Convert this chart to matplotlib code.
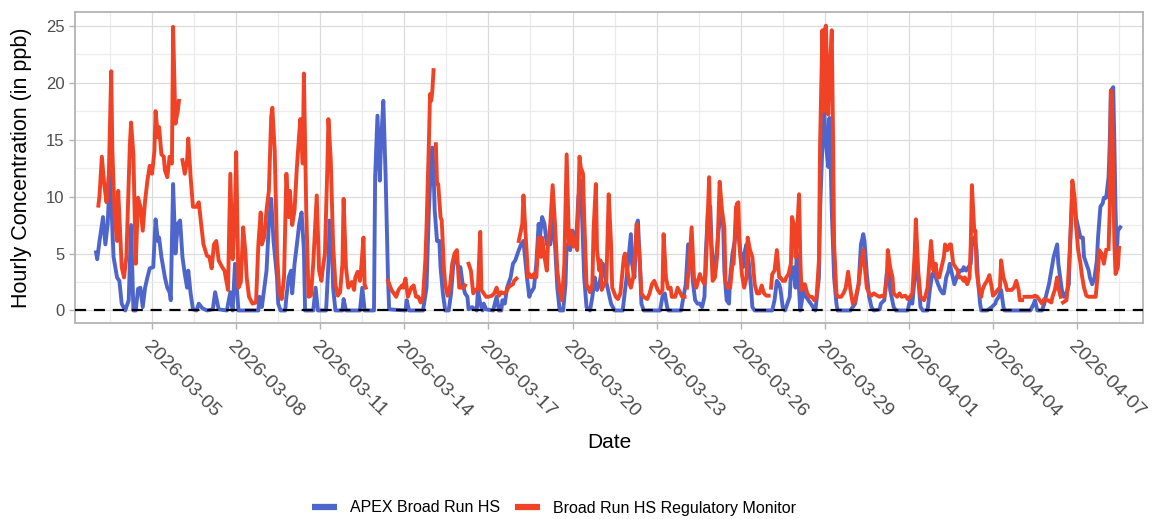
import numpy as np
import pandas as pd
import matplotlib
matplotlib.use('Agg')
import matplotlib.pyplot as plt
from matplotlib.lines import Line2D

# hourly readings, hours counted from 2026-03-03 00:00 (nan = missing hours)
apex_hours = [0, 1, 3, 6, 8, 10, 12, 15, 18, 20, 22, 25, 28, 30, 32, 34, 36, 38, 40, 42,
              44, 46, 49, 51, 53, 54, 56, 59, 61, 63, 64, 66, 68, 70, 72, 74, 76, 78, 79, 81,
              83, 86, 88, 91, 95, 100, 102, 105, 112, 115, 117, 119, 122, 139, 140, 142, 144, 146, 148, 150,
              152, 155, 156, 158, 162, 163, 165, 167, 168, 170, 172, 174, 176, 178, 179, 186, 188, 190, 197, 199,
              200, 202, 203, 205, 211, 212, 214, 226, 228, 230, 238, 239, 241, 243, 244, 246, 248, 250, 251, 265,
              266, 268, 280, 283, 285, 287, 288, 289, 290, 292, 294, 295, 297, 299, 302, 304, 306, 308, 310, 312,
              314, 316, 318, 319, 322, 326, 327, 329, 331, 332, 334, 340, 343, 345, 347, 348, 350, 352, 355, 357,
              359, 362, 364, 366, 367, 369, 371, 372, 375, 377, 379, 380, 382, 384, 386, 387, 389, 391, 393, 395,
              397, 400, 402, 403, 406, 408, 410, 411, 413, 415, 416, 418, 420, 423, 425, 427, 429, 431, 433, 434,
              436, 438, 441, 444, 451, 453, 454, 456, 458, 459, 461, 463, 464, 466, 467, 469, 483, 485, 487, 489,
              490, 501, 503, 505, 507, 509, 511, 513, 515, 517, 519, 521, 522, 524, 526, 527, 529, 531, 533, 535,
              537, 538, 540, 542, 543, 545, 547, 549, 550, 552, 554, 555, 557, 559, 561, 562, 564, 579, 581, 583,
              585, 586, 588, 590, 592, 594, 595, 597, 599, 600, 602, 603, 605, 606, 608, 610, 612, 614, 616, 619,
              620, 622, 623, 625, 627, 628, 629, 630, 632, 634, 635, 646, 648, 650, 651, 653, 655, 657, 658, 660,
              662, 664, 666, 671, 672, 675, 677, 679, 680, 683, 685, 695, 697, 699, 701, 702, 704, 706, 708, 712,
              714, 716, 718, 719, 721, 723, 725, 726, 728, 730, 731, 733, 735, 737, 738, 740, 742, 743, 745, 747,
              749, 750, 752, 754, 755, 757, 758, 763, 767, 770, 771, 773, 775, 777, 778, 800, 803, 804, 806, 810,
              812, 814, 816, 818, 820, 823, 824, 826, 827, 829, 831, 833, 834, 836, 838, 839, 841, 843, 845, 846,
              848, 850, 851, 853, 855, 857, 858, 860, 862, 863, 865, 867, 868, 869, 871, 872, 873, 874, 875, 877]
apex_ppb = [5.1, 4.5, 6.1, 8.2, 5.8, 7.6, 12.3, 4.7, 2.9, 2.6, 0.6, 0, 0.9, 7.5, 0, 0, 1.9, 2.0, 0.3, 2.0,
            2.9, 3.7, 3.8, 8.0, 6.1, 6.4, 4.7, 2.9, 2.0, 1.6, 0.9, 11.1, 5.0, 7.6, 7.9, 4.7, 3.2, 2.0, 3.5, 1.5,
            0.1, 0, 0.6, 0.2, 0, 0.1, 1.6, 0.1, 0, 1.6, 0, 4.1, 0, 0, 1.2, 0.3, 1.9, 3.5, 7.6, 9.8,
            6.1, 2.9, 0.6, 0, 0, 1.2, 2.9, 3.5, 1.5, 4.1, 5.8, 7.6, 8.6, 5.3, 0, 0, 2.0, 0, 0, 4.1,
            7.9, 6.4, 2.0, 0, 0, 1.0, 0, 0, 2.0, 0, 0, 11.7, 17.1, 11.4, 14.6, 18.4, 11.7, 2.9, 0.1, 0,
            0.9, 0, 0, 2.0, 8.8, 13.2, 14.3, 12.3, 8.8, 6.1, 6.1, 3.8, 1.5, 0, 0, 1.5, 4.1, 5.0, 3.8, 3.8,
            2.3, 1.5, 1.2, 0.1, 0.3, 0, 1.8, 0.6, 0, 0.6, 0.1, 0, 1.2, 0, 0, 0.9, 0.6, 2.0, 2.9, 4.1,
            4.4, 5.3, 5.8, 6.1, 5.0, 2.9, 1.2, 1.5, 2.0, 4.1, 7.6, 6.4, 8.2, 7.6, 5.8, 6.4, 5.8, 8.2, 5.8, 2.0,
            0, 0, 2.3, 5.8, 5.3, 7.0, 5.8, 5.8, 9.9, 11.4, 8.8, 2.9, 0.3, 0, 1.2, 2.9, 1.8, 2.3, 3.5, 4.1,
            2.9, 2.0, 0.6, 0, 0, 1.8, 2.6, 4.7, 6.7, 4.1, 2.9, 7.6, 7.9, 3.5, 0.6, 0, 0, 1.2, 1.5, 0.3,
            0, 0, 1.2, 2.3, 5.8, 5.8, 2.6, 0.9, 0.6, 0.6, 0.3, 1.2, 4.7, 8.8, 9.1, 5.8, 3.5, 4.4, 7.0, 8.5,
            7.6, 3.5, 0.9, 0.6, 2.9, 5.0, 6.1, 9.4, 7.0, 4.7, 3.8, 5.0, 5.8, 4.1, 1.8, 0.3, 0, 0, 0.9, 2.6,
            2.3, 1.9, 0.3, 0, 0.6, 1.2, 3.2, 3.8, 2.0, 5.0, 1.8, 0, 1.2, 2.0, 1.2, 0.9, 0.6, 0.3, 0, 2.9,
            8.8, 14.6, 18.6, 14.6, 12.6, 16.9, 13.2, 8.8, 2.9, 0.6, 0, 0, 0.3, 0.6, 1.2, 2.3, 5.8, 6.7, 6.1, 3.2,
            1.2, 0.3, 0, 0.1, 0.6, 0.9, 3.2, 4.1, 1.8, 0.3, 0, 0, 0.9, 0.6, 2.9, 5.8, 2.9, 0.3, 0, 0,
            1.8, 3.2, 3.2, 2.9, 2.3, 1.8, 1.5, 1.5, 2.9, 3.5, 4.1, 3.2, 2.3, 2.9, 3.2, 3.5, 3.5, 3.8, 3.5, 3.8,
            4.1, 5.8, 6.4, 5.3, 2.9, 0.6, 0, 0, 0.3, 0.6, 0.9, 1.2, 1.8, 0.3, 0, 0, 0.6, 0.9, 0, 0,
            0.6, 1.5, 2.3, 3.5, 4.7, 5.8, 4.1, 2.6, 1.8, 1.2, 1.5, 2.3, 5.8, 9.9, 9.4, 8.2, 7.3, 6.4, 6.4, 4.7,
            4.1, 3.5, 2.9, 2.3, 2.9, 4.4, 6.4, 9.1, 9.4, 9.9, 9.9, 11.7, 14.6, 19.3, 19.6, 14.6, 8.8, 5.0, 7.0, 7.3]

nan = np.nan
monitor_hours = [2, 3, 5, 7, 9, 11, 13, 14, 16, 18, 19, 21, 22, 24, 26, 29, 30, 32, 34, 36,
                 38, 40, 42, 44, 46, 48, 50, 51, 53, 54, 56, 58, 59, 61, 63, 65, 66, 68, 70, 71,
                 72, 74, 76, 78, 79, 81, 83, 86, 88, 90, 92, 95, 97, 99, 101, 103, 105, 108, 110, 113,
                 115, 117, 119, 120, 122, 124, 126, 128, 129, 131, 134, 137, 139, 141, 142, 144, 146, 148, 150, 151,
                 153, 155, 157, 159, 161, 163, 165, 166, 168, 170, 172, 174, 175, 177, 178, 180, 182, 184, 186, 189,
                 191, 193, 194, 196, 198, 199, 201, 203, 205, 207, 209, 211, 212, 214, 216, 219, 221, 222, 224, 226,
                 227, 229, 230, 231, 232, 250, 253, 255, 257, 259, 262, 263, 265, 267, 270, 272, 274, 276, 278, 280,
                 282, 283, 285, 286, 287, 288, 289, 290, 291, 292, 293, 295, 296, 298, 299, 301, 303, 305, 307, 309,
                 311, 313, 315, 316, 317, 319, 321, 323, 325, 327, 329, 330, 332, 334, 336, 339, 341, 343, 345, 347,
                 349, 351, 353, 355, 357, 358, 360, 361, 362, 365, 366, 368, 370, 371, 373, 375, 377, 379, 381, 382,
                 384, 386, 387, 389, 391, 393, 395, 397, 399, 401, 403, 405, 407, 409, 410, 412, 414, 415, 417, 418,
                 419, 420, 423, 425, 426, 428, 429, 431, 432, 433, 435, 437, 439, 441, 442, 445, 447, 449, 452, 453,
                 455, 457, 458, 460, 462, 463, 465, 467, 469, 472, 474, 476, 478, 481, 483, 485, 486, 488, 490, 492,
                 493, 496, 498, 499, 502, 504, 505, 506, 508, 510, 512, 514, 517, 518, 521, 522, 525, 526, 528, 530,
                 532, 534, 536, 538, 539, 541, 543, 545, 546, 548, 550, 551, 553, 555, 557, 558, 560, 562, 564, 566,
                 568, 570, 572, 574, 576, 577, 578, 579, 581, 583, 585, 586, 588, 590, 591, 593, 595, 596, 598, 599,
                 601, 602, 603, 604, 606, 607, 609, 611, 613, 615, 617, 619, 620, 622, 623, 624, 625, 626, 627, 628,
                 630, 631, 632, 634, 635, 638, 640, 642, 644, 646, 648, 650, 653, 655, 657, 658, 660, 662, 664, 666,
                 669, 671, 673, 675, 677, 678, 680, 682, 683, 686, 688, 690, 693, 695, 697, 699, 701, 702, 704, 706,
                 709, 710, 712, 714, 715, 717, 719, 720, 722, 724, 726, 727, 729, 731, 732, 734, 736, 738, 739, 741,
                 743, 744, 746, 748, 749, 750, 752, 753, 754, 756, 758, 759, 761, 763, 765, 767, 768, 770, 772, 774,
                 775, 777, 779, 780, 782, 784, 786, 788, 790, 791, 793, 794, 795, 798, 800, 802, 804, 806, 808, 810,
                 812, 814, 815, 818, 819, 821, 823, 824, 826, 827, 828, 831, 832, 834, 836, 838, 839, 841, 843, 844,
                 846, 848, 850, 852, 854, 856, 858, 859, 861, 863, 864, 865, 866, 867, 868, 869, 870, 871, 872, 873,
                 875, 876]
monitor_ppb = [9.2, 10.1, 13.5, 11.1, 9.5, 12.0, 21.0, 14.0, 8.2, 6.1, 10.5, 6.1, 3.8, 2.9, 4.7, 14.6, 16.5, 13.7, 4.1, 9.9,
               9.1, 7.0, 9.6, 11.4, 12.7, 12.0, 14.0, 17.5, 15.2, 16.1, 13.7, 13.5, 12.3, 11.7, 13.5, 12.9, 24.9, 16.4, 17.5, 18.4,
               nan, 13.2, 12.0, 13.2, 15.1, 11.7, 9.1, 9.1, 9.5, 7.6, 5.8, 4.8, 4.7, 3.7, 5.8, 6.1, 4.4, 3.8, 3.5, 1.8,
               12.0, 4.5, 8.8, 13.9, 2.0, 2.5, 7.3, 5.0, 2.9, 1.2, 0.6, 0.7, 5.8, 8.6, 5.8, 6.4, 8.8, 10.5, 17.0, 17.8,
               14.0, 5.0, 1.5, 1.0, 2.9, 12.0, 8.2, 10.5, 7.5, 8.8, 12.6, 15.5, 16.8, 12.9, 20.8, 8.8, 1.2, 1.3, 4.1, 10.1,
               3.5, 2.6, 3.5, 5.0, 12.3, 16.8, 13.2, 5.8, 2.3, 1.3, 1.6, 4.1, 9.8, 3.8, 2.0, 2.5, 1.8, 2.9, 3.4, 2.6,
               3.6, 6.4, 2.3, 2.0, nan, 2.6, 1.8, 1.5, 1.2, 1.8, 2.2, 2.0, 2.8, 1.2, 2.0, 2.2, 1.2, 1.2, 0.7, 1.2,
               4.4, 7.3, 14.6, 19.0, 18.4, 19.3, 21.1, nan, 14.6, 11.1, 11.1, 8.2, 7.9, 3.5, 2.3, 1.3, 2.0, 4.1, 5.0, 5.3,
               2.0, 2.0, 2.0, 2.2, nan, 4.1, 3.5, 1.5, 1.8, 1.9, 6.9, 1.8, 1.5, 1.2, 1.2, 1.3, 1.5, 2.0, 1.3, 1.6,
               1.5, 1.6, 2.0, 2.2, 2.3, 2.6, 2.8, nan, 6.1, 7.6, 10.1, 6.4, 2.9, 3.2, 2.9, 3.2, 2.9, 6.4, 4.7, 6.4,
               4.7, 3.5, 5.8, 7.6, 11.0, 7.6, 3.5, 1.8, 0.9, 4.1, 13.7, 5.8, 7.0, 5.6, 6.4, 5.3, 13.5, 12.6, 12.0, 8.2,
               5.3, 2.3, 1.6, 2.3, 7.0, 11.1, 5.3, 3.5, 4.4, 1.8, 2.3, 2.6, 10.2, 5.8, 2.0, 1.2, 1.0, 1.5, 4.7, 5.0,
               3.5, 2.3, 2.0, 2.9, 5.8, 7.6, 5.3, 1.5, 1.2, 1.0, 1.5, 2.3, 2.6, 1.8, 1.5, 1.8, 6.7, 2.9, 1.9, 2.0,
               1.2, 1.2, 2.0, 1.8, 1.2, 1.2, nan, 2.0, 4.1, 7.3, 2.9, 2.0, 3.2, 2.9, 2.3, 3.2, 11.7, 7.3, 2.6, 2.9,
               5.0, 11.3, 8.8, 7.3, 2.6, 2.0, 2.0, 4.1, 4.1, 9.1, 9.5, 5.8, 3.2, 2.0, 2.9, 6.4, 5.3, 4.7, 2.3, 1.5,
               1.5, 2.2, 1.5, 1.3, 1.3, nan, 2.0, 3.2, 3.5, 5.3, 2.9, 2.9, 2.6, 2.6, 2.9, 3.2, 4.1, 8.2, 7.3, 4.7,
               8.2, 10.2, 4.7, 1.8, 2.3, 2.3, 1.5, 1.2, 1.2, 0.9, 1.2, 4.4, 14.6, 24.6, 17.5, 24.6, 25.0, 20.5, 17.2, 20.5,
               24.6, 16.1, 5.8, 1.5, 1.2, 1.2, 1.5, 2.0, 3.4, 1.8, 0.6, 0.9, 2.3, 4.1, 5.3, 4.1, 2.0, 1.5, 1.3, 1.5,
               1.3, 1.2, 1.3, 1.2, 2.6, 5.3, 3.8, 2.9, 1.5, 1.2, 1.5, 1.2, 1.3, 1.0, 1.2, 1.5, 5.0, 8.0, 3.5, 1.2,
               0.9, 1.2, 2.0, 4.7, 6.1, 3.5, 4.1, 2.9, 2.9, 3.8, 4.7, 5.8, 5.3, 5.8, 5.8, 4.1, 3.8, 3.5, 2.9, 2.9,
               2.6, 2.9, 2.3, 2.9, 5.8, 11.0, 7.0, 7.0, 3.5, 2.0, 1.2, 1.8, 2.3, 2.6, 3.1, 2.0, 1.3, 1.5, 1.8, 2.0,
               4.4, 2.9, 2.3, 1.8, 1.8, 1.8, 2.0, 2.6, 1.8, 0.9, 0.9, nan, 1.2, 1.2, 1.2, 1.2, 1.3, 1.2, 0.9, 0.6,
               1.0, 0.9, 0.9, 0.7, 1.2, 1.8, 2.9, 2.0, 1.2, nan, 0.7, 0.9, 2.0, 5.5, 11.4, 9.9, 7.6, 5.3, 4.1, 3.2,
               2.0, 1.3, 1.2, 1.2, 1.2, 1.2, 3.5, 5.3, 5.0, 4.1, 4.7, 5.3, nan, 5.4, 8.8, 19.3, 18.7, 11.7, 5.8, 3.2,
               3.8, 5.5]

start = pd.Timestamp('2026-03-03 00:00')
apex_time = start + pd.to_timedelta(apex_hours, unit='h')
monitor_time = start + pd.to_timedelta(monitor_hours, unit='h')

blue = '#4e65cc'
red = '#f04326'

plt.rcParams['font.family'] = ['Liberation Sans', 'DejaVu Sans']

fig = plt.figure(figsize=(11.53, 5.19), dpi=100)
ax = fig.add_axes([75 / 1153, 1 - 323 / 519, 1068 / 1153, 311 / 519])

ax.plot(apex_time, apex_ppb, color=blue, lw=2.8, solid_joinstyle='round', zorder=3)
ax.plot(monitor_time, monitor_ppb, color=red, lw=2.8, solid_joinstyle='round', zorder=4)
ax.axhline(0, color='black', lw=1.6, ls=(0, (5, 3.5)), zorder=5)

ax.set_ylim(-1.1, 26.2)
ax.set_xlim(start - pd.Timedelta(hours=18), start + pd.Timedelta(hours=896.5))

ax.set_yticks([0, 5, 10, 15, 20, 25])
ax.set_yticks([2.5, 7.5, 12.5, 17.5, 22.5], minor=True)
tick_days = pd.date_range('2026-03-05', '2026-04-07', freq='3D')
ax.set_xticks(tick_days)
ax.set_xticklabels([d.strftime('%Y-%m-%d') for d in tick_days])
ax.set_xticks(pd.date_range('2026-03-03 12:00', '2026-04-08 12:00', freq='3D'), minor=True)

ax.grid(True, which='major', color='#dcdcdc', lw=0.9)
ax.grid(True, which='minor', color='#ececec', lw=0.9)
ax.set_axisbelow(True)

for s in ax.spines.values():
    s.set_color('#b3b3b3')
    s.set_linewidth(1.3)
ax.tick_params(which='major', length=4, width=1, color='#b3b3b3', labelcolor='#4d4d4d', labelsize=12)
ax.tick_params(which='minor', length=0)
ax.tick_params(axis='x', labelsize=14, pad=7)
for lab in ax.get_xticklabels():
    lab.set_rotation(-45)
    lab.set_ha('left')
    lab.set_va('top')
    lab.set_rotation_mode('anchor')

ax.set_ylabel('Hourly Concentration (in ppb)', fontsize=15.5, color='black')
ax.yaxis.set_label_coords(-0.04, 0.5)
ax.set_xlabel('Date', fontsize=15, color='black')
ax.xaxis.set_label_coords(0.5, -0.355)

handles = [Line2D([], [], color=blue, lw=4.5, solid_capstyle='butt'),
           Line2D([], [], color=red, lw=4.5, solid_capstyle='butt')]
fig.legend(handles, ['APEX Broad Run HS', 'Broad Run HS Regulatory Monitor'],
           loc='center', bbox_to_anchor=(554 / 1153, 1 - 508 / 519), ncol=2, frameon=False,
           fontsize=11.5, handlelength=1.6, handletextpad=0.8, columnspacing=0.9)

fig.savefig('out.png', dpi=100)
